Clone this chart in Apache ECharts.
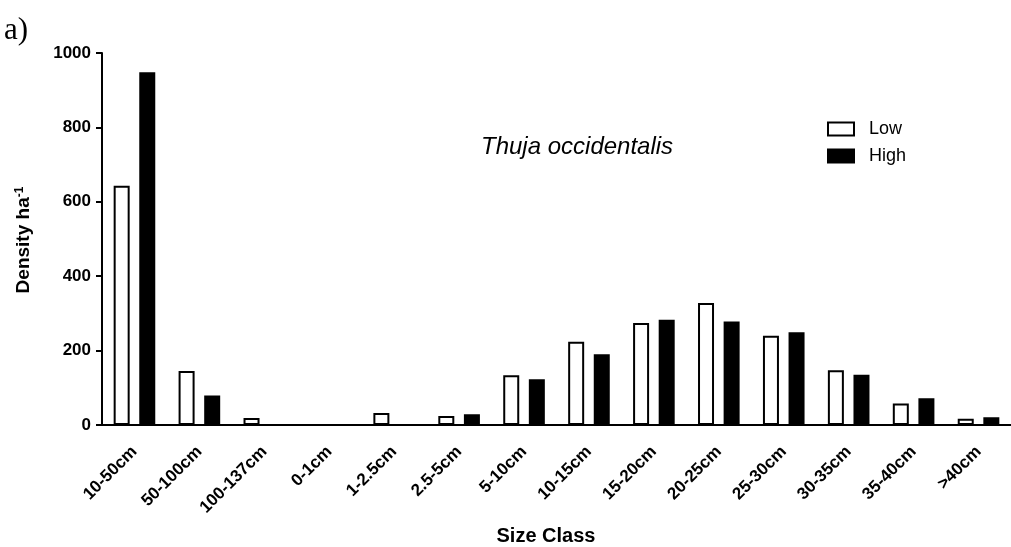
<!DOCTYPE html>
<html>
<head>
<meta charset="utf-8">
<script src="https://cdn.jsdelivr.net/npm/echarts@6/dist/echarts.min.js"></script>
<style>
  html, body { margin: 0; padding: 0; background: #fff; }
  #chart { width: 1011px; height: 547px; }
</style>
</head>
<body>
<div id="chart"></div>
<script>
// Size classes (height classes for seedlings/saplings, then DBH classes)
const categories = ['10-50cm', '50-100cm', '100-137cm', '0-1cm', '1-2.5cm', '2.5-5cm', '5-10cm',
  '10-15cm', '15-20cm', '20-25cm', '25-30cm', '30-35cm', '35-40cm', '>40cm'];
// Stem density per hectare
const lowValues = [643, 145, 19, 0, 32, 24, 134, 224, 274, 328, 240, 147, 58, 17];
const highValues = [948, 79, 0, 0, 0, 29, 123, 190, 283, 278, 249, 135, 72, 21];
// Y axis range and step
const yMin = 0;
const yMax = 1000;
const yStep = 200;

const FONT = '"Liberation Sans", Arial, sans-serif';

const chart = echarts.init(document.getElementById('chart'), null, { renderer: 'canvas' });

chart.setOption({
  animation: false,
  backgroundColor: '#ffffff',
  grid: { left: 102, right: -8, top: 53, bottom: 122, containLabel: false },
  legend: {
    orient: 'vertical',
    left: 827,
    top: 120,
    padding: 0,
    itemWidth: 26,
    itemHeight: 13,
    itemGap: 9,
    icon: 'rect',
    textStyle: { fontFamily: FONT, fontSize: 18, color: '#000', padding: [0, 0, 0, 10] },
    data: ['Low', 'High']
  },
  xAxis: {
    type: 'category',
    data: categories,
    boundaryGap: true,
    axisLine: { lineStyle: { color: '#000', width: 2 } },
    axisTick: { alignWithLabel: true, length: 8, lineStyle: { color: '#000', width: 2 } },
    axisLabel: {
      interval: 0,
      rotate: 45,
      margin: 24,
      fontFamily: FONT,
      fontWeight: 'bold',
      fontSize: 17,
      color: '#000'
    },
    splitLine: { show: false }
  },
  yAxis: {
    type: 'value',
    min: yMin,
    max: yMax,
    interval: yStep,
    axisLine: { show: true, lineStyle: { color: '#000', width: 2 } },
    axisTick: { show: true, length: 6, lineStyle: { color: '#000', width: 2 } },
    axisLabel: {
      margin: 11,
      fontFamily: FONT,
      fontWeight: 'bold',
      fontSize: 17,
      color: '#000',
      formatter: (v) => String(v)
    },
    splitLine: { show: false }
  },
  series: [
    {
      name: 'Low',
      type: 'bar',
      data: lowValues,
      barWidth: 16,
      barGap: '60%',
      itemStyle: { color: '#ffffff', borderColor: '#000', borderWidth: 2 }
    },
    {
      name: 'High',
      type: 'bar',
      data: highValues,
      barWidth: 16,
      itemStyle: { color: '#000000', borderColor: '#000', borderWidth: 2 }
    }
  ],
  graphic: [
    {
      type: 'text',
      left: 4,
      top: 15,
      style: { text: 'a)', fontFamily: '"Liberation Serif", "Times New Roman", serif', fontSize: 31, fill: '#000' }
    },
    {
      type: 'text',
      x: 481,
      y: 147,
      style: {
        text: 'Thuja occidentalis',
        fontFamily: FONT,
        fontStyle: 'italic',
        fontSize: 24,
        fill: '#000',
        align: 'left',
        verticalAlign: 'middle'
      }
    },
    {
      type: 'text',
      x: 24,
      y: 240,
      rotation: Math.PI / 2,
      style: {
        text: 'Density ha{sup|-1}',
        fontFamily: FONT,
        fontWeight: 'bold',
        fontSize: 19,
        fill: '#000',
        align: 'center',
        verticalAlign: 'middle',
        rich: {
          sup: { fontFamily: FONT, fontWeight: 'bold', fontSize: 12, fill: '#000', verticalAlign: 'top', padding: [0, 0, 8, 0] }
        }
      }
    },
    {
      type: 'text',
      x: 546,
      y: 536,
      style: {
        text: 'Size Class',
        fontFamily: FONT,
        fontWeight: 'bold',
        fontSize: 20,
        fill: '#000',
        align: 'center',
        verticalAlign: 'middle'
      }
    }
  ]
});
</script>
</body>
</html>
